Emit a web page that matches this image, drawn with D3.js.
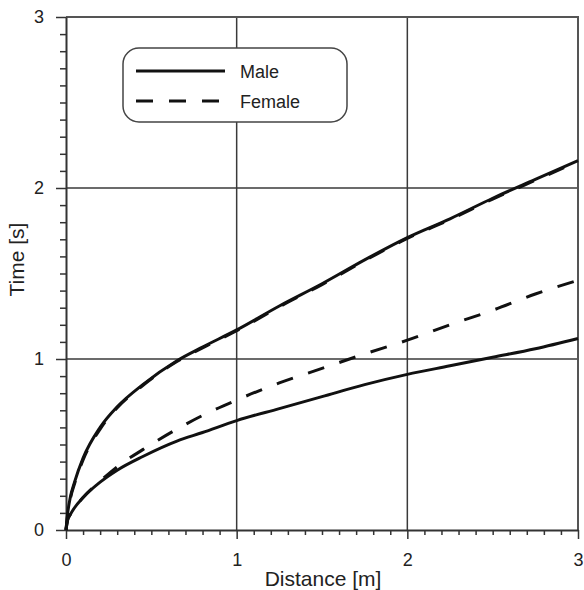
<!DOCTYPE html>
<html>
<head>
<meta charset="utf-8">
<script src="https://cdn.jsdelivr.net/npm/d3@7"></script>
<style>
  body { margin: 0; background: #fff; }
  svg text { font-family: "Liberation Sans", Arial, sans-serif; fill: #222; }
</style>
</head>
<body>
<svg id="chart" width="584" height="590"></svg>
<script>
// valeurs
const distance    = [0, 0.01, 0.025, 0.05, 0.1, 0.2, 0.3, 0.45, 0.65, 0.8, 1, 1.25, 1.5, 1.75, 2, 2.25, 2.5, 2.75, 3];
const maleUpper   = [0, 0.10, 0.19, 0.28, 0.42, 0.60, 0.72, 0.85, 0.99, 1.07, 1.17, 1.31, 1.44, 1.58, 1.71, 1.82, 1.94, 2.05, 2.16];
const femaleUpper = [0, 0.09, 0.18, 0.27, 0.41, 0.59, 0.715, 0.845, 0.985, 1.065, 1.165, 1.305, 1.435, 1.575, 1.705, 1.815, 1.935, 2.045, 2.155];
const maleLower   = [0, 0.06, 0.09, 0.13, 0.19, 0.28, 0.35, 0.43, 0.52, 0.57, 0.64, 0.71, 0.78, 0.85, 0.91, 0.96, 1.01, 1.06, 1.12];
const femaleLower = [0, 0.06, 0.09, 0.13, 0.19, 0.285, 0.37, 0.47, 0.59, 0.67, 0.76, 0.86, 0.945, 1.03, 1.11, 1.20, 1.285, 1.38, 1.46];

const xTicks = [0, 1, 2, 3];
const yTicks = [0, 1, 2, 3];
const minorTicks = d3.range(1, 30).map(i => i / 10).filter(v => Math.abs(v - Math.round(v)) > 1e-6);

const legendItems = [
    { label: "Male", dash: null },
    { label: "Female", dash: "17 16" }
];

const svg = d3.select("#chart");
const margin = { top: 17, right: 6, bottom: 60, left: 66 };
const width = 584 - margin.left - margin.right;
const height = 590 - margin.top - margin.bottom;

const g = svg.append("g").attr("transform", `translate(${margin.left},${margin.top})`);

const x = d3.scaleLinear().domain([0, 3]).range([0, width]);
const y = d3.scaleLinear().domain([0, 3]).range([height, 0]);

// grille
g.append("g").selectAll("line").data(xTicks.slice(1, -1)).join("line")
    .attr("x1", d => x(d)).attr("x2", d => x(d)).attr("y1", 0).attr("y2", height)
    .attr("stroke", "#3a3a3a").attr("stroke-width", 1.5);
g.append("g").selectAll("line").data(yTicks.slice(1, -1)).join("line")
    .attr("y1", d => y(d)).attr("y2", d => y(d)).attr("x1", 0).attr("x2", width)
    .attr("stroke", "#3a3a3a").attr("stroke-width", 1.5);

// cadre haut / droite
g.append("path").attr("d", `M0,0H${width}V${height}`).attr("fill", "none")
    .attr("stroke", "#555").attr("stroke-width", 2);

// graduations mineures
g.append("g").attr("transform", `translate(0,${height})`)
    .call(d3.axisBottom(x).tickValues(minorTicks).tickSize(5).tickFormat(""))
    .call(a => a.select(".domain").remove())
    .selectAll("line").attr("stroke", "#333").attr("stroke-width", 1.5);
g.append("g")
    .call(d3.axisLeft(y).tickValues(minorTicks).tickSize(6).tickFormat(""))
    .call(a => a.select(".domain").remove())
    .selectAll("line").attr("stroke", "#333").attr("stroke-width", 1.5);

// axes principaux
const xAxis = g.append("g").attr("transform", `translate(0,${height})`)
    .call(d3.axisBottom(x).tickValues(xTicks).tickSize(9).tickSizeOuter(0).tickPadding(14).tickFormat(d3.format("d")));
const yAxis = g.append("g")
    .call(d3.axisLeft(y).tickValues(yTicks).tickSize(10).tickSizeOuter(0).tickPadding(12).tickFormat(d3.format("d")));
[xAxis, yAxis].forEach(a => {
    a.select(".domain").attr("stroke", "#333").attr("stroke-width", 2);
    a.selectAll(".tick line").attr("stroke", "#333").attr("stroke-width", 1.5);
    a.selectAll(".tick text").attr("font-size", 18).attr("fill", "#222");
});

// titres d'axes
g.append("text").attr("x", width / 2 + 1).attr("y", height + 56).attr("text-anchor", "middle")
    .attr("font-size", 21).text("Distance [m]");
g.append("text").attr("transform", "rotate(-90)").attr("x", -(y(1.5) - 14)).attr("y", -42)
    .attr("text-anchor", "middle").attr("font-size", 21).text("Time [s]");

// courbes
const line = vals => d3.line()
    .x((d, i) => x(distance[i]))
    .y(d => y(d))
    .curve(d3.curveMonotoneX)(vals);

const series = [
    { vals: maleUpper, dash: null },
    { vals: femaleUpper, dash: "17 16" },
    { vals: maleLower, dash: null },
    { vals: femaleLower, dash: "17 16" }
];
g.append("g").selectAll("path").data(series).join("path")
    .attr("d", d => line(d.vals))
    .attr("fill", "none").attr("stroke", "#111").attr("stroke-width", 3)
    .attr("stroke-dasharray", d => d.dash);

// légende
const lg = svg.append("g").attr("transform", "translate(123,48)");
lg.append("rect").attr("width", 224).attr("height", 74).attr("rx", 16).attr("ry", 16)
    .attr("fill", "#fff").attr("stroke", "#444").attr("stroke-width", 1.5);
const items = lg.selectAll(".item").data(legendItems).join("g").attr("class", "item")
    .attr("transform", (d, i) => `translate(0,${23 + i * 30})`);
items.append("line").attr("x1", 13).attr("x2", 102).attr("y1", 0).attr("y2", 0)
    .attr("stroke", "#111").attr("stroke-width", 3).attr("stroke-dasharray", d => d.dash);
items.append("text").attr("x", 117).attr("y", 7).attr("font-size", 18).text(d => d.label);
</script>
</body>
</html>
